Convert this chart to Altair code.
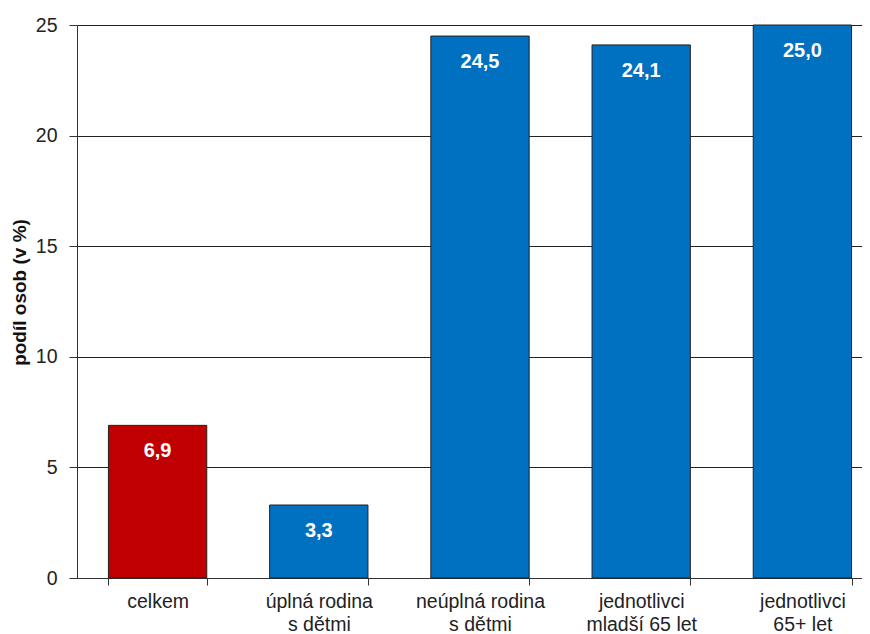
import altair as alt
import pandas as pd

categories = ["celkem", "úplná rodina|s dětmi", "neúplná rodina|s dětmi",
              "jednotlivci|mladší 65 let", "jednotlivci|65+ let"]
values = [6.9, 3.3, 24.5, 24.1, 25.0]
colors = ["#C00000", "#0070C0", "#0070C0", "#0070C0", "#0070C0"]

df = pd.DataFrame({
    "cat": categories,
    "val": values,
    "col": colors,
    "lab": [f"{v:.1f}".replace(".", ",") for v in values],
})

FONT = "Liberation Sans"

xscale = alt.Scale(paddingInner=0.39, paddingOuter=0.195, range=[0, 806])

x = alt.X("cat:N", sort=categories, title=None, scale=xscale,
          axis=alt.Axis(labelAngle=0, labelExpr="split(datum.label, '|')",
                        labelFontSize=19.5, labelColor="#222", labelFont=FONT,
                        labelLineHeight=23, labelPadding=7,
                        tickBand="extent", tickSize=7, tickColor="#333",
                        domainColor="#333", grid=False))

y = alt.Y("val:Q", title="podíl osob (v %)",
          scale=alt.Scale(domain=[0, 25], nice=False),
          axis=alt.Axis(values=[0, 5, 10, 15, 20, 25], tickSize=8,
                        tickColor="#333", domainColor="#333",
                        gridColor="#222", gridWidth=1,
                        labelFontSize=19.5, labelColor="#222", labelFont=FONT,
                        labelPadding=12, titleFontSize=19, titleFont=FONT,
                        titleFontWeight="bold", titleColor="#111",
                        titleX=-58, titleY=267, titleAlign="center",
                        titleBaseline="middle", titleAngle=270))

bars = alt.Chart(df).mark_bar(stroke="#222", strokeWidth=1).encode(
    x=x, y=y, color=alt.Color("col:N", scale=None))

text = alt.Chart(df).mark_text(color="white", fontWeight="bold", fontSize=20,
                               font=FONT, baseline="middle", dy=26).encode(
    x=alt.X("cat:N", sort=categories, scale=xscale), y="val:Q", text="lab:N")

chart = (bars + text).properties(
    width=785, height=553,
    autosize=alt.AutoSizeParams(type="none"),
    padding={"left": 69, "top": 17, "right": 0, "bottom": 60},
).configure_view(stroke=None).configure_axis(gridOpacity=1)

chart.save("out.html", embed_options={"renderer": "svg", "actions": False})
